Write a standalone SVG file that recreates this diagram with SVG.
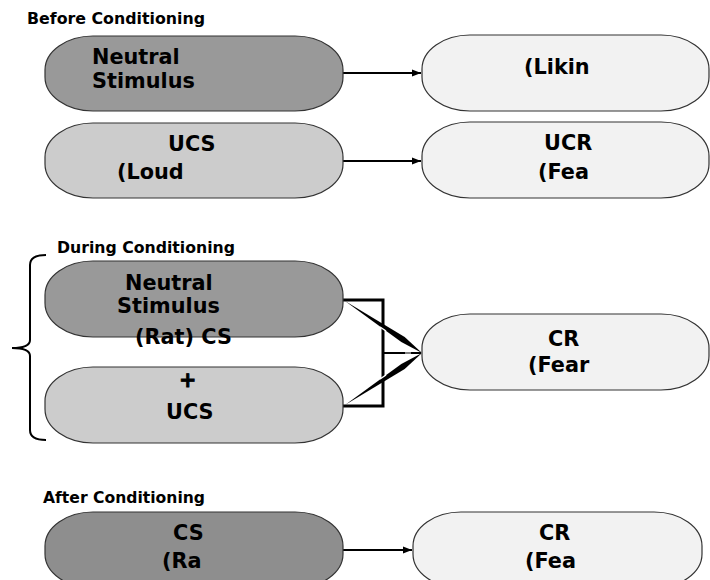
<svg xmlns="http://www.w3.org/2000/svg" width="710" height="580" viewBox="0 0 710 580">
<style>
.n{stroke:#333;stroke-width:1.2}
.dark{fill:#999999}
.cs{fill:#8e8e8e}
.light{fill:#cccccc}
.pale{fill:#f2f2f2}
.t{font-family:"DejaVu Sans","Liberation Sans",sans-serif;font-weight:bold;font-size:20.8px;fill:#000}
.h{font-family:"DejaVu Sans","Liberation Sans",sans-serif;font-weight:bold;font-size:15px;fill:#000}
.c{fill:none;stroke:#000;stroke-width:2}
</style>
<defs>
<marker id="ah" markerWidth="10" markerHeight="8" refX="9" refY="4" orient="auto" markerUnits="userSpaceOnUse">
<path d="M0,0.5 L9,4 L0,7.5 Z" fill="#000"/>
</marker>
</defs>
<rect width="710" height="580" fill="#fff"/>
<text class="h" x="27" y="24" textLength="178" lengthAdjust="spacingAndGlyphs">Before Conditioning</text>
<text class="h" x="57" y="253" textLength="178" lengthAdjust="spacingAndGlyphs">During Conditioning</text>
<text class="h" x="43" y="503" textLength="162" lengthAdjust="spacingAndGlyphs">After Conditioning</text>

<g id="connectors">
<line class="c" x1="343" y1="73" x2="421" y2="73" marker-end="url(#ah)"/>
<line class="c" x1="343" y1="161" x2="421" y2="161" marker-end="url(#ah)"/>
<line class="c" x1="343" y1="550" x2="412" y2="550" marker-end="url(#ah)"/>
<path d="M343,300 H383 V406 H343" fill="none" stroke="#000" stroke-width="3"/>
<line x1="383" y1="353" x2="421" y2="353" stroke="#000" stroke-width="2"/>
<polygon points="345,301 404.7,337 422,353 401.3,342" fill="#000"/>
<polygon points="345,405 404.7,369 422,353 401.3,364" fill="#000"/>
<line x1="380" y1="327" x2="386" y2="331" stroke="#fff" stroke-width="1.5"/>
<line x1="380" y1="379" x2="386" y2="375" stroke="#fff" stroke-width="1.5"/>
<line x1="405" y1="353" x2="411" y2="353" stroke="#fff" stroke-width="1"/>
<path d="M46,255 Q30,255 30,265 V340 Q30,348 12,348 Q30,348 30,356 V430 Q30,440 46,440" fill="none" stroke="#000" stroke-width="2"/>
</g>

<g id="before-ns">
<rect class="n dark" x="45" y="36" width="298" height="75" rx="48" ry="34"/>
<text class="t" x="92" y="64">Neutral</text>
<text class="t" x="92" y="88">Stimulus</text>
</g>
<g id="before-liking">
<rect class="n pale" x="422" y="35" width="287" height="76" rx="48" ry="34"/>
<text class="t" x="524" y="74">(Likin</text>
</g>
<g id="before-ucs">
<rect class="n light" x="45" y="123" width="298" height="75" rx="48" ry="34"/>
<text class="t" x="168" y="151">UCS</text>
<text class="t" x="117" y="179">(Loud</text>
</g>
<g id="before-ucr">
<rect class="n pale" x="422" y="122" width="287" height="76" rx="48" ry="34"/>
<text class="t" x="544" y="150">UCR</text>
<text class="t" x="538" y="179">(Fea</text>
</g>

<g id="during-ns">
<rect class="n dark" x="45" y="261" width="298" height="76" rx="48" ry="34"/>
<text class="t" x="125" y="290">Neutral</text>
<text class="t" x="117" y="313">Stimulus</text>
</g>
<g id="during-ucs">
<rect class="n light" x="45" y="367" width="298" height="76" rx="48" ry="34"/>
<text class="t" x="166" y="419">UCS</text>
</g>
<text class="t" x="179" y="387" font-size="32" stroke="#000" stroke-width="0.8">+</text>
<text class="t" x="135" y="344">(Rat) CS</text>
<g id="during-cr">
<rect class="n pale" x="422" y="314" width="287" height="76" rx="48" ry="34"/>
<text class="t" x="548" y="346">CR</text>
<text class="t" x="528" y="372">(Fear</text>
</g>

<g id="after-cs">
<rect class="n cs" x="45" y="512" width="298" height="76" rx="48" ry="34"/>
<text class="t" x="173" y="540">CS</text>
<text class="t" x="162" y="568">(Ra</text>
</g>
<g id="after-cr">
<rect class="n pale" x="413" y="512" width="289" height="76" rx="48" ry="34"/>
<text class="t" x="539" y="540">CR</text>
<text class="t" x="525" y="568">(Fea</text>
</g>
</svg>
